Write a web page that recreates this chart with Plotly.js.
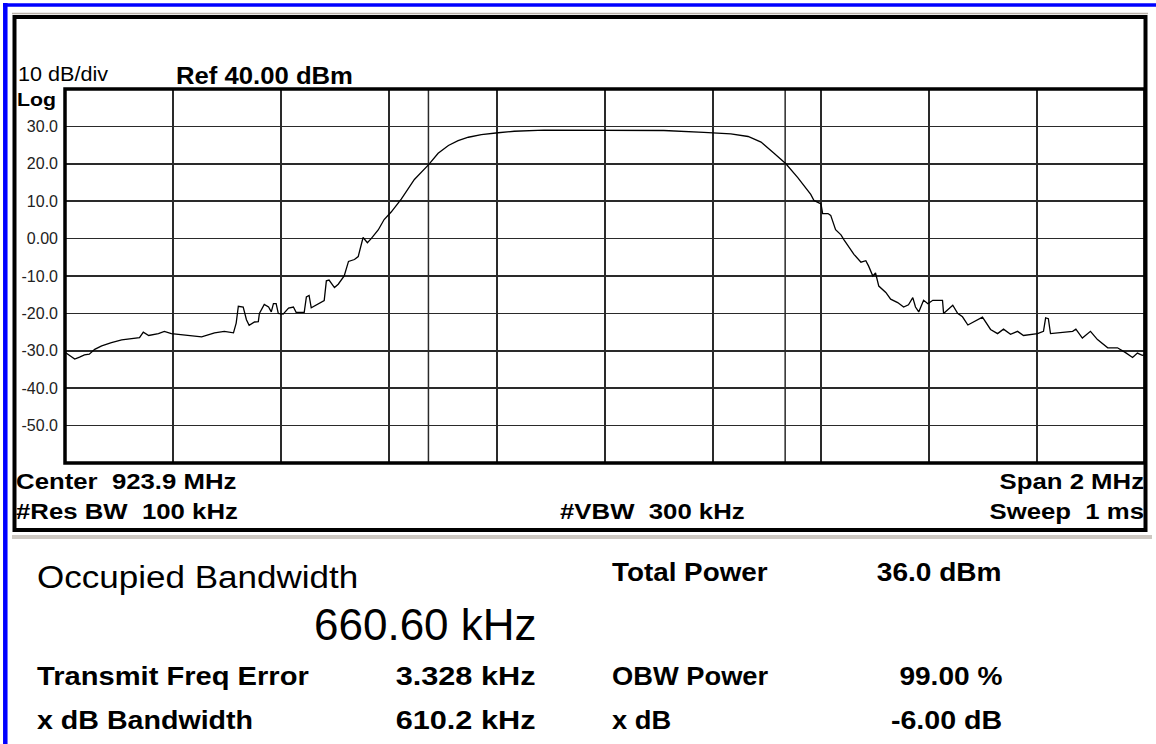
<!DOCTYPE html>
<html>
<head>
<meta charset="utf-8">
<script src="https://cdn.plot.ly/plotly-3.0.1.min.js"></script>
<style>
  html, body { margin: 0; padding: 0; background: #ffffff; }
  #plot { width: 1156px; height: 744px; }
</style>
</head>
<body>
<div id="plot"></div>
<script>
// Analyzer settings
const centerMHz = 923.9;
const spanMHz = 2;
const refLevelDbm = 40;
const dbPerDiv = 10;
const divisions = 10;

// Measurement results
const obwKHz = 660.60;
const freqErrorKHz = 3.328;

// Trace: frequency offset from center (kHz) and level (dBm)
const offsetsKHz = [-1000,-992,-982,-973,-964,-955,-945,-932,-914,-895,
  -877,-862,-855,-845,-827,-816,-803,-784,-771,-747,
  -723,-705,-688,-683,-679,-670,-664,-659,-649,-642,
  -640,-631,-623,-618,-614,-609,-605,-596,-586,-577,
  -572,-557,-553,-548,-544,-525,-520,-516,-511,-501,
  -494,-483,-475,-464,-457,-448,-440,-433,-420,-409,
  -396,-377,-353,-327,-309,-290,-272,-253,-229,-198,
  -168,-113,-44,4,54,109,183,233,265,289,
  313,335,357,381,387,400,403,413,418,427,
  437,442,461,474,483,488,496,501,507,520,
  529,542,553,562,570,575,581,590,598,607,
  616,625,627,644,653,662,672,683,699,714,
  727,738,751,764,775,801,812,816,821,825,
  844,866,872,884,899,912,931,949,964,977,
  986,995,1000];
const levelsDbm = [-30.4,-31.3,-32.2,-31.7,-31.1,-30.9,-29.6,-28.7,-27.8,-27.1,
  -26.8,-26.5,-25.0,-25.9,-25.4,-24.8,-25.4,-25.7,-26.1,-26.3,
  -25.2,-24.8,-25.2,-22.6,-18.1,-18.3,-21.7,-23.2,-22.3,-22.2,
  -20.0,-17.6,-18.3,-19.6,-17.4,-17.4,-20.0,-20.2,-18.6,-18.3,
  -19.7,-19.7,-15.6,-15.2,-18.5,-17.0,-16.6,-11.3,-11.1,-13.1,
  -12.2,-10.0,-6.1,-5.6,-4.8,0.3,-1.1,0.0,2.3,5.1,
  7.1,10.6,15.8,19.7,22.8,24.9,26.2,27.1,27.8,28.3,
  28.7,29.0,29.0,29.0,29.0,28.9,28.4,28.0,27.3,25.8,
  22.8,20.0,16.3,11.8,10.2,9.3,6.7,6.7,6.2,2.4,
  1.0,-0.2,-4.2,-6.3,-5.9,-7.3,-10.0,-9.2,-12.7,-14.4,
  -16.2,-17.1,-18.3,-17.7,-15.8,-18.3,-19.6,-16.5,-17.4,-16.5,
  -16.5,-16.5,-20.0,-17.8,-20.0,-20.9,-23.1,-22.2,-21.0,-24.3,
  -25.4,-24.2,-25.6,-24.8,-25.9,-25.4,-24.8,-21.2,-21.4,-25.4,
  -25.2,-24.8,-24.2,-26.6,-24.8,-27.0,-29.2,-29.2,-30.5,-31.8,
  -30.6,-31.2,-31.0];

// Graticule labels
const yTickValues = [30, 20, 10, 0, -10, -20, -30, -40, -50];
const yTickLabels = ['30.0', '20.0', '10.0', '0.00', '-10.0', '-20.0', '-30.0', '-40.0', '-50.0'];

// Annotation text
const headerTexts = ['10 dB/div', 'Ref 40.00 dBm', 'Log'];
const footerTexts = ['Center\u00a0 923.9 MHz', '#Res BW\u00a0 100 kHz', '#VBW\u00a0 300 kHz', 'Span 2 MHz', 'Sweep\u00a0 1 ms'];
const resultLabels = ['Occupied Bandwidth', 'Transmit Freq Error', 'x dB Bandwidth', 'Total Power', 'OBW Power', 'x dB'];
const resultValues = ['660.60 kHz', '3.328 kHz', '610.2 kHz', '36.0 dBm', '99.00 %', '-6.00 dB'];

// ---- figure geometry (pixels) ----
const W = 1156, H = 744;
const L = 65, R = 1145, T = 89, B = 463;
const px = x => (x - L) / (R - L);
const py = y => (B - y) / (B - T);

const FONT = 'Liberation Sans, Arial, sans-serif';
const freqs = offsetsKHz.map(k => centerMHz + k / 1000);
const fStart = centerMHz - spanMHz / 2, fStop = centerMHz + spanMHz / 2;
const obwLow = centerMHz + (freqErrorKHz - obwKHz / 2) / 1000;
const obwHigh = centerMHz + (freqErrorKHz + obwKHz / 2) / 1000;

const trace = {
  x: freqs, y: levelsDbm, type: 'scatter', mode: 'lines',
  line: { color: '#000000', width: 1.3 }, hoverinfo: 'skip'
};

// the instrument's screen font is a little wider than Arial: each label
// carries a horizontal stretch applied once the figure is drawn
const textStretch = [];
function txt(text, x, y, anchor, size, bold, stretch) {
  textStretch.push(stretch || 1);
  return {
    xref: 'paper', yref: 'paper', x: px(x), y: py(y),
    xanchor: anchor, yanchor: 'middle', showarrow: false, borderpad: 0,
    text: bold ? '<b>' + text + '</b>' : text,
    font: { family: FONT, size: size, color: '#000000' }
  };
}

const annotations = [
  txt(headerTexts[0], 17, 74, 'left', 20, false, 1.08),
  txt(headerTexts[1], 175, 75, 'left', 24, true, 1.07),
  txt(headerTexts[2], 16, 99, 'left', 19, true, 1.12),
  txt(footerTexts[0], 15, 481, 'left', 23, true, 1.12),
  txt(footerTexts[1], 15, 511, 'left', 23, true, 1.12),
  txt(footerTexts[2], 559, 511, 'left', 23, true, 1.12),
  txt(footerTexts[3], 1145, 481, 'right', 23, true, 1.12),
  txt(footerTexts[4], 1145, 511, 'right', 23, true, 1.12),
  txt(resultLabels[0], 36, 577, 'left', 31, false, 1.13),
  txt(resultValues[0], 538, 624, 'right', 44, false, 1.0),
  txt(resultLabels[1], 36, 676, 'left', 26, true, 1.12),
  txt(resultValues[1], 537, 676, 'right', 26, true, 1.18),
  txt(resultLabels[2], 36, 720, 'left', 26, true, 1.10),
  txt(resultValues[2], 537, 720, 'right', 26, true, 1.18),
  txt(resultLabels[3], 611, 572, 'left', 26, true, 1.07),
  txt(resultValues[3], 1003, 572, 'right', 26, true, 1.08),
  txt(resultLabels[4], 611, 676, 'left', 26, true, 1.05),
  txt(resultValues[4], 1003, 676, 'right', 26, true, 1.08),
  txt(resultLabels[5], 611, 720, 'left', 26, true, 1.05),
  txt(resultValues[5], 1003, 720, 'right', 26, true, 1.10)
];

function pline(x0, y0, x1, y1, color, width) {
  return { type: 'line', xref: 'paper', yref: 'paper', x0: px(x0), y0: py(y0), x1: px(x1), y1: py(y1),
           line: { color: color, width: width }, layer: 'above' };
}

const shapes = [
  // window border
  pline(5.3, 3, 5.3, 744, '#0000ff', 4.5),
  pline(3, 5, 1156, 5, '#0000ff', 3.5),
  // instrument frame
  pline(12, 13.5, 1148, 13.5, '#b8b0a8', 1.5),
  { type: 'rect', xref: 'paper', yref: 'paper', x0: px(14.5), x1: px(1145.5), y0: py(17), y1: py(530),
    line: { color: '#000000', width: 4 }, layer: 'above' },
  pline(12, 537, 1152, 537, '#cdc8c2', 4),
  // OBW markers
  { type: 'line', xref: 'x', yref: 'paper', x0: obwLow, x1: obwLow, y0: 0, y1: 1,
    line: { color: '#2a2a2a', width: 1.5 }, layer: 'below' },
  { type: 'line', xref: 'x', yref: 'paper', x0: obwHigh, x1: obwHigh, y0: 0, y1: 1,
    line: { color: '#2a2a2a', width: 1.5 }, layer: 'below' },
  // graticule border
  { type: 'rect', xref: 'paper', yref: 'paper', x0: 0, x1: 1, y0: 0, y1: 1,
    line: { color: '#000000', width: 3.5 }, layer: 'above' }
];

const layout = {
  width: W, height: H,
  margin: { l: L, r: W - R, t: T, b: H - B, pad: 0 },
  paper_bgcolor: '#ffffff', plot_bgcolor: '#ffffff',
  showlegend: false,
  xaxis: {
    range: [fStart, fStop], tick0: fStart, dtick: spanMHz / divisions,
    showgrid: true, gridcolor: '#2a2a2a', gridwidth: 1.5,
    showticklabels: false, ticks: '', zeroline: false, showline: false, fixedrange: true
  },
  yaxis: {
    range: [refLevelDbm - dbPerDiv * divisions, refLevelDbm],
    tickvals: yTickValues, ticktext: yTickLabels,
    showgrid: true, gridcolor: '#2a2a2a', gridwidth: 1.5,
    ticks: '', ticklabelstandoff: 6,
    tickfont: { family: FONT, size: 16, color: '#222222' },
    zeroline: false, showline: false, fixedrange: true
  },
  shapes: shapes,
  annotations: annotations
};

Plotly.newPlot('plot', [trace], layout, { displayModeBar: false, staticPlot: true }).then(gd => {
  gd.querySelectorAll('.annotation').forEach((g, i) => {
    const s = textStretch[i];
    const t = g.querySelector('text');
    if (!t || !s || s === 1) return;
    const bb = t.getBBox();
    const a = annotations[i].xanchor === 'right' ? bb.x + bb.width : bb.x;
    const prev = t.getAttribute('transform') || '';
    t.setAttribute('transform', prev + ' translate(' + a + ',0) scale(' + s + ',1) translate(' + (-a) + ',0)');
  });
});
</script>
</body>
</html>
